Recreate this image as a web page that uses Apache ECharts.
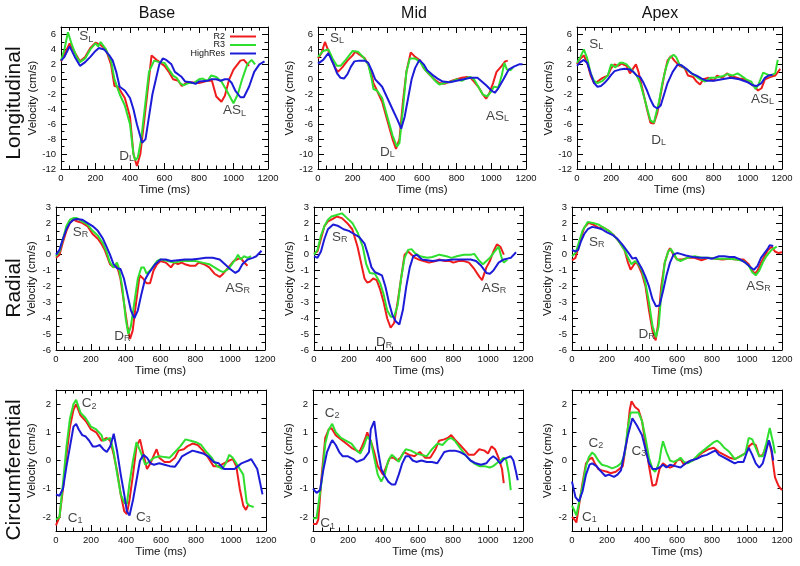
<!DOCTYPE html>
<html><head><meta charset="utf-8">
<script src="https://cdn.jsdelivr.net/npm/echarts@6/dist/echarts.min.js"></script>
<style>html,body{margin:0;padding:0;background:#fff}#c{width:800px;height:566px}</style>
</head><body><div id="c"></div><script>
// ---------- data: [time (ms), velocity (cm/s)] ----------
const longBaseR2 = [[0,2.4],[25,3.6],[50,4.8],[80,3.6],[110,2.4],[140,3.0],[170,4.2],[200,4.9],[230,4.6],[260,4.0],[290,2.0],[310,-0.9],[330,-1.0],[370,-2.5],[400,-5],[420,-10],[440,-11.6],[460,-10],[490,-4],[525,3.2],[560,2.5],[600,1.8],[625,1.0],[650,0],[680,-0.2],[700,-0.9],[725,-0.5],[750,-0.4],[800,-0.5],[850,-0.2],[875,-0.2],[900,-2.3],[930,-3.0],[950,-2.2],[975,0],[1000,1.3],[1040,2.5],[1060,2.6],[1090,1.8]];
const longBaseR3 = [[0,2.5],[20,4.0],[40,6.3],[65,4.5],[90,3.0],[110,2.3],[140,2.8],[170,4.0],[200,4.8],[215,4.4],[230,5.0],[260,4.0],[290,2.5],[310,0],[340,-2],[370,-3.5],[400,-6],[420,-10],[430,-10.8],[445,-10.5],[465,-8],[490,-3],[510,1],[540,2.5],[570,2.3],[600,2.2],[620,1.5],[650,0.5],[670,0.2],[690,-0.5],[710,-0.8],[740,-0.5],[770,-0.5],[800,0],[820,0.1],[850,-0.2],[870,0.5],[900,0.3],[930,-0.3],[960,-1.5],[1000,-3.2],[1025,-2.0],[1050,0],[1080,2.0],[1105,2.6],[1125,2.0]];
const longBaseHR = [[0,2.5],[20,3.0],[50,4.4],[80,3.0],[110,1.8],[140,2.3],[170,3.0],[200,3.8],[220,4.2],[250,4.0],[280,3.2],[300,2.5],[320,1.0],[340,-1],[370,-1.5],[400,-2.5],[420,-4],[440,-6],[470,-8.5],[490,-8],[510,-5],[530,-2],[550,0],[570,2],[590,2.8],[610,2.6],[640,2.0],[660,1.0],[700,0.3],[720,-0.3],[750,-0.4],[780,-0.6],[800,-0.3],[850,-0.2],[870,0],[900,0],[925,-0.2],[950,0],[970,0],[990,-0.5],[1010,-1.5],[1040,-2.4],[1060,-2.4],[1090,-1.0],[1120,1.0],[1150,2.0],[1180,2.4]];

const longMidR2 = [[0,2.8],[20,3.5],[40,5.0],[60,3.8],[80,2.5],[100,1.5],[115,1.0],[140,1.6],[170,2.5],[200,3.2],[215,3.7],[240,3.3],[270,2.8],[290,2.0],[310,0.5],[320,-0.5],[340,-1.5],[370,-3],[400,-5.5],[430,-8],[450,-9.3],[470,-8],[490,-3],[510,1],[535,3.6],[560,3.0],[590,2.5],[610,1.5],[640,0.7],[670,0],[700,-0.5],[730,-0.6],[760,-0.3],[800,0],[830,0.2],[860,0.3],[880,0.2],[900,-0.3],[925,-1.0],[950,-2.0],[970,-2.6],[990,-1.8],[1010,-0.5],[1030,1.0],[1060,1.8],[1080,2.4],[1095,2.5]];
const longMidR3 = [[0,3.0],[30,3.8],[60,4.0],[90,2.5],[110,1.8],[130,1.8],[160,2.6],[200,3.8],[230,3.7],[260,3.0],[290,2.0],[310,0],[320,-1.3],[340,-1.5],[370,-2.5],[400,-5],[430,-7.5],[455,-9],[470,-8.5],[490,-4],[510,1],[530,2.8],[560,2.8],[590,2.3],[620,1.2],[650,0.5],[680,-0.3],[700,-0.7],[730,-0.5],[770,-0.3],[800,0],[830,-0.2],[860,0.2],[880,0.3],[900,0],[930,-1.2],[950,-2.0],[975,-2.3],[1000,-1.6],[1015,-1.0],[1040,-1.1],[1060,0.5],[1075,2.2],[1090,1.3],[1110,1.2],[1125,1.6]];
const longMidHR = [[0,2.1],[30,2.6],[60,3.5],[90,2.0],[110,0.8],[130,0.2],[150,0.1],[170,0.7],[190,1.7],[210,2.4],[240,2.5],[270,2.5],[290,2.2],[310,1.2],[330,0],[350,-0.5],[370,-1.0],[400,-2.5],[430,-4],[460,-5.5],[480,-6.6],[500,-5],[520,-2.5],[540,0],[560,1.5],[585,2.6],[610,2.0],[630,1.2],[660,0.6],[690,0.1],[720,-0.3],[760,-0.4],[800,-0.2],[840,0],[880,0.2],[920,0.2],[940,-0.2],[970,-0.8],[1000,-1.5],[1020,-1.8],[1040,-1.2],[1070,0],[1100,1.3],[1130,1.7],[1160,2.0],[1180,2.0]];

const longApexR2 = [[0,2.0],[20,2.8],[40,3.2],[60,2.2],[80,0.5],[100,-0.5],[120,-0.3],[150,0.2],[180,0.5],[200,1.5],[220,2.0],[240,1.8],[260,2.1],[290,1.8],[310,0.8],[330,1.5],[345,2.0],[360,1.0],[380,-1],[410,-4],[430,-5.8],[450,-5.9],[470,-4.5],[490,-2],[510,0.5],[530,2.5],[550,3.1],[570,2.5],[600,1.8],[630,1.5],[650,0.5],[680,0.3],[700,-0.3],[720,-0.7],[740,0],[770,0.2],[800,-0.2],[820,0.5],[850,0.2],[880,0.8],[900,0.3],[920,0.3],[950,0.1],[980,0],[1010,-0.5],[1040,-1.0],[1060,-1.5],[1080,-1.2],[1100,0],[1130,0.3],[1160,0.5],[1190,1.4]];
const longApexR3 = [[0,2.2],[20,3.0],[40,4.0],[60,2.8],[80,0.8],[100,-0.2],[120,-0.5],[150,-0.2],[180,0.5],[200,2.0],[225,1.6],[250,2.2],[270,2.2],[290,2.0],[310,1.5],[330,1.0],[350,0.5],[370,-0.5],[400,-3],[430,-5.5],[450,-5.8],[460,-5.6],[480,-3],[500,-0.5],[520,1.5],[540,2.8],[565,3.3],[580,3.0],[600,2.0],[630,1.5],[660,1.0],[690,0.5],[720,0],[750,-0.3],[780,0.2],[810,0.2],[850,0.4],[880,0.7],[910,0.5],[940,0.8],[960,0.5],[990,0],[1020,-0.3],[1045,-1.3],[1060,-0.8],[1090,0.9],[1110,0.7],[1130,0.5],[1160,0.8],[1175,2.6]];
const longApexHR = [[0,1.8],[20,2.3],[40,2.6],[60,2.2],[80,0.8],[100,-0.5],[120,-1.0],[140,-0.9],[160,-0.5],[180,0],[200,0.6],[220,1.1],[250,1.3],[280,1.4],[310,1.3],[330,1.0],[350,0.5],[370,0.3],[390,-0.5],[410,-1.5],[430,-2.7],[450,-3.6],[470,-3.9],[490,-3.5],[510,-2],[530,-0.5],[560,1.0],[590,2.0],[610,1.9],[640,1.4],[670,0.8],[700,0.5],[730,0.1],[760,-0.2],[800,-0.2],[850,0],[900,0.2],[950,0],[1000,-0.4],[1030,-0.8],[1050,-0.9],[1080,-0.5],[1100,0.2],[1120,0.5],[1145,0.6]];

const radBaseR2 = [[0,-0.2],[20,0],[40,0.8],[60,1.5],[80,2.0],[100,2.2],[120,2.1],[150,2.0],[180,1.8],[210,1.3],[240,1.0],[260,0.7],[280,0.3],[300,-0.3],[310,-0.6],[330,-0.8],[350,-0.7],[370,-1.5],[390,-3],[410,-4.5],[425,-5.3],[440,-4.8],[460,-3],[480,-1.3],[500,-1.5],[520,-1.8],[540,-1.8],[560,-1.0],[580,-0.6],[600,-0.4],[630,-0.5],[660,-0.8],[680,-0.5],[700,-0.6],[720,-0.5],[740,-0.6],[770,-0.7],[800,-0.7],[820,-0.5],[850,-0.6],[880,-0.8],[910,-1.2],[940,-1.4],[960,-1.2],[990,-0.8],[1020,-0.4],[1040,-0.3],[1060,-0.2],[1080,-0.5],[1100,-0.7]];
const radBaseR3 = [[0,-0.1],[20,0.2],[40,1.0],[60,1.8],[80,2.2],[100,2.3],[120,2.3],[150,2.1],[180,1.9],[210,1.5],[240,1.2],[270,0.7],[290,0.2],[310,-0.5],[330,-0.8],[350,-0.5],[360,-0.8],[380,-2],[400,-4],[415,-5.0],[430,-4.5],[450,-3],[470,-1.5],[490,-0.8],[505,-0.8],[520,-1.2],[540,-1.0],[560,-0.7],[580,-0.4],[600,-0.3],[640,-0.4],[680,-0.5],[720,-0.4],[760,-0.4],[800,-0.4],[840,-0.5],[880,-0.6],[910,-0.8],[940,-1.0],[960,-1.1],[990,-0.9],[1010,-0.6],[1030,-0.3],[1045,0],[1060,-0.3],[1080,-0.1],[1100,-0.2],[1120,-0.1]];
const radBaseHR = [[0,0],[20,0.3],[40,1.0],[60,1.6],[80,2.0],[100,2.2],[120,2.25],[150,2.2],[180,2.0],[210,1.8],[240,1.5],[270,1.0],[290,0.5],[310,0],[330,-0.6],[350,-0.85],[370,-0.9],[390,-1.5],[410,-2.5],[430,-3.5],[450,-4.0],[470,-3.5],[490,-2.5],[510,-1.6],[530,-1.2],[550,-0.9],[570,-0.6],[600,-0.3],[630,-0.3],[660,-0.4],[700,-0.35],[740,-0.3],[780,-0.3],[820,-0.25],[860,-0.2],[900,-0.2],[940,-0.3],[970,-0.6],[1000,-0.9],[1030,-1.15],[1050,-1.0],[1070,-0.6],[1100,-0.3],[1130,-0.2],[1150,-0.1],[1180,0.25]];

const radMidR2 = [[0,0.1],[20,0.2],[40,1.0],[60,1.8],[80,2.1],[100,2.2],[130,2.4],[160,2.3],[190,2.0],[220,1.6],[250,0.5],[270,-0.5],[290,-1.5],[305,-1.75],[320,-1.7],[340,-1.5],[360,-1.6],[380,-2.2],[400,-3],[420,-4],[440,-4.6],[460,-4.3],[480,-3],[500,-1.5],[520,0],[540,0.2],[560,0],[580,-0.2],[600,-0.3],[630,-0.4],[660,-0.5],[700,-0.4],[720,-0.3],[750,-0.4],[780,-0.4],[800,-0.5],[830,-0.4],[860,-0.4],[890,-0.5],[920,-0.9],[950,-1.4],[965,-1.6],[990,-0.8],[1010,-0.4],[1030,0.2],[1050,0.65],[1070,0.5],[1090,0]];
const radMidR3 = [[0,0],[20,0.3],[40,1.2],[60,1.8],[80,2.2],[100,2.4],[130,2.5],[160,2.6],[190,2.3],[220,2.0],[250,1.4],[280,0.5],[300,-0.6],[320,-1.15],[350,-1.2],[380,-1.8],[400,-2.5],[420,-3.5],[440,-3.9],[460,-3.9],[480,-3.2],[500,-1.5],[520,-0.2],[540,0.3],[560,0.35],[580,0.1],[610,-0.1],[650,-0.2],[680,-0.15],[720,0],[760,-0.1],[790,-0.2],[820,-0.1],[860,0],[900,0],[920,0.05],[950,-0.4],[970,-0.6],[990,-0.4],[1010,-0.2],[1030,0.1],[1060,0.5],[1080,-0.3],[1090,-0.5],[1110,-0.3]];
const radMidHR = [[0,-0.1],[20,-0.2],[40,0.2],[60,1.0],[80,1.6],[110,1.9],[140,1.8],[170,1.6],[200,1.5],[230,1.3],[260,1.1],[290,0.7],[310,0],[330,-0.8],[350,-1.1],[370,-1.2],[390,-1.3],[410,-2],[430,-3],[450,-3.8],[470,-4.2],[490,-4.4],[510,-3.5],[530,-2],[550,-0.8],[570,-0.1],[590,0],[620,-0.3],[650,-0.35],[680,-0.4],[720,-0.35],[760,-0.35],[800,-0.3],[850,-0.3],[900,-0.3],[930,-0.4],[960,-0.7],[990,-1.15],[1010,-1.2],[1030,-1.0],[1060,-0.5],[1090,-0.3],[1110,-0.25],[1130,-0.2],[1160,0.15]];

const radApexR2 = [[0,-0.35],[20,-0.2],[30,0.2],[50,1.0],[70,1.7],[95,2.0],[120,1.9],[150,1.7],[180,1.7],[210,1.5],[240,1.2],[270,0.8],[300,0.3],[320,-0.5],[335,-0.95],[350,-0.7],[365,-0.45],[380,-0.7],[400,-1.2],[420,-2],[440,-3.5],[460,-4.8],[478,-5.4],[490,-4.5],[510,-2],[530,-0.5],[550,0.2],[560,0.4],[580,0],[600,-0.3],[630,-0.3],[660,-0.2],[700,-0.2],[740,-0.35],[780,-0.2],[820,-0.25],[860,-0.3],[900,-0.25],[940,-0.3],[980,-0.3],[1010,-0.6],[1030,-1.0],[1045,-1.2],[1060,-1.0],[1080,-0.5],[1100,-0.1],[1120,0.3],[1140,0.5],[1160,0.2],[1180,0.1],[1200,0.15]];
const radApexR3 = [[0,-0.1],[20,0.1],[40,0.8],[60,1.5],[90,2.05],[120,2.0],[150,1.9],[180,1.7],[210,1.5],[240,1.2],[270,0.8],[300,0.3],[320,-0.2],[340,-0.6],[360,-0.4],[380,-0.6],[400,-1.0],[420,-1.8],[440,-3],[460,-4.5],[480,-5.2],[495,-4.5],[510,-2.5],[530,-0.5],[550,0.2],[565,0.35],[580,0.1],[600,-0.3],[620,-0.4],[640,-0.3],[660,-0.2],[700,-0.1],[740,-0.2],[780,-0.2],[820,-0.25],[860,-0.25],[900,-0.25],[940,-0.3],[980,-0.4],[1010,-0.7],[1030,-1.1],[1050,-1.3],[1070,-1.0],[1090,-0.5],[1110,-0.1],[1140,0.3],[1170,0.5]];
const radApexHR = [[0,0.3],[20,0.2],[35,0.3],[50,0.8],[70,1.3],[90,1.6],[115,1.75],[140,1.7],[170,1.6],[200,1.4],[230,1.25],[260,1.0],[290,0.6],[310,0.3],[330,0],[345,-0.25],[365,-0.2],[380,-0.5],[400,-0.9],[420,-1.4],[440,-2.0],[460,-2.8],[480,-3.25],[500,-3.2],[520,-2.3],[540,-1.3],[560,-0.5],[580,0],[600,0.1],[620,0.05],[650,-0.05],[690,-0.15],[730,-0.2],[770,-0.2],[800,-0.25],[840,-0.1],[870,-0.1],[900,-0.15],[930,-0.15],[960,-0.3],[990,-0.5],[1020,-0.8],[1040,-0.95],[1060,-0.7],[1080,-0.2],[1100,0.1],[1120,0.4],[1130,0.6],[1150,0.55]];

const circBaseR2 = [[0,-2.3],[20,-2.0],[40,-1.0],[60,0.2],[80,1.2],[100,1.8],[115,2.0],[140,1.6],[170,1.4],[200,1.1],[230,1.0],[260,0.7],[290,0.8],[310,0.7],[330,0.2],[350,-0.4],[370,-1.2],[390,-1.8],[405,-1.9],[420,-1.4],[440,-0.5],[460,0.5],[480,0.75],[500,0.2],[520,-0.3],[540,-0.1],[560,0.2],[575,0.4],[590,0.1],[620,-0.05],[650,-0.05],[680,0.1],[700,0.35],[730,0.4],[750,0.5],[780,0.6],[810,0.55],[840,0.35],[870,0.1],[900,-0.2],[930,-0.2],[960,-0.1],[990,0],[1010,0.05],[1030,-0.2],[1050,-1.0],[1070,-1.6],[1085,-1.75],[1100,-1.55]];
const circBaseR3 = [[0,-2.1],[20,-2.0],[40,-0.8],[60,0.5],[80,1.5],[100,2.0],[115,2.15],[140,1.7],[170,1.5],[200,1.2],[230,1.1],[260,0.9],[270,0.7],[290,0.75],[310,0.8],[330,0.3],[350,-0.5],[370,-1.2],[390,-1.5],[405,-1.55],[420,-0.8],[440,0],[460,0.65],[470,0.7],[490,0.2],[510,-0.15],[530,-0.05],[560,0.1],[590,0.15],[620,0.12],[650,0.1],[680,0.3],[710,0.5],[740,0.75],[770,0.7],[800,0.65],[830,0.55],[860,0.3],[890,0.1],[920,-0.2],[950,-0.3],[970,-0.1],[990,0.2],[1010,0.1],[1030,-0.1],[1050,-0.3],[1070,-0.5],[1090,-1.5],[1105,-1.6],[1130,-1.65]];
const circBaseHR = [[0,-1.2],[20,-1.25],[40,-1.0],[60,-0.2],[80,0.5],[100,1.2],[115,1.3],[130,1.1],[150,0.9],[170,0.85],[190,0.7],[210,0.5],[230,0.5],[250,0.55],[270,0.4],[290,0.3],[310,0.5],[330,0.95],[350,0.3],[370,-0.5],[390,-1.2],[405,-1.8],[420,-1.95],[440,-1.4],[460,-0.7],[480,0],[500,0.2],[520,0.1],[540,-0.1],[560,-0.15],[590,-0.1],[620,-0.15],[650,-0.2],[680,-0.22],[700,-0.05],[720,0.15],[750,0.25],[780,0.35],[810,0.3],[840,0.25],[870,0.15],[900,-0.05],[930,-0.1],[960,-0.3],[990,-0.3],[1020,-0.3],[1040,-0.2],[1060,-0.1],[1080,-0.05],[1100,0],[1115,0.05],[1130,-0.1],[1150,-0.3],[1170,-0.9],[1180,-1.2]];

const circMidR2 = [[0,-2.25],[20,-2.25],[30,-2.1],[50,-0.5],[70,0.8],[90,1.1],[105,1.15],[130,0.9],[160,0.75],[190,0.6],[220,0.45],[250,0.35],[265,0.3],[280,0.5],[300,0.8],[310,1.0],[330,0.7],[350,0.3],[370,-0.2],[390,-0.4],[400,-0.5],[420,-0.2],[440,0.1],[460,0.1],[480,0],[500,0.1],[520,0.3],[550,0.2],[580,0.15],[610,0.3],[640,0.1],[670,0.1],[700,0.4],[720,0.7],[750,0.75],[770,0.8],[790,0.9],[810,0.75],[840,0.55],[870,0.35],[890,0.2],[920,0.2],[950,0.4],[980,0.35],[1000,0.25],[1020,0.5],[1040,0.4],[1060,0.1],[1080,-0.3],[1090,-0.8]];
const circMidR3 = [[0,-2.05],[20,-2.05],[30,-2.0],[50,-0.7],[70,0.6],[90,1.1],[110,1.3],[130,1.0],[160,0.8],[190,0.7],[220,0.6],[250,0.35],[270,0.25],[290,0.5],[310,0.85],[330,0.7],[350,0.1],[370,-0.5],[390,-0.75],[410,-0.5],[430,0],[450,0.2],[470,0.1],[490,-0.05],[510,0.2],[530,0.4],[560,0.35],[590,0.25],[620,0.2],[650,0.15],[680,0.4],[710,0.6],[740,0.55],[770,0.75],[790,0.8],[810,0.7],[840,0.45],[870,0.2],[900,0],[920,-0.1],[950,-0.2],[980,-0.2],[1010,-0.25],[1030,-0.2],[1050,-0.1],[1070,0],[1090,0.1],[1105,0],[1120,-0.5],[1130,-1.05]];
const circMidHR = [[0,-1.0],[20,-1.15],[40,-1.05],[60,-0.3],[80,0.3],[100,0.6],[110,0.72],[130,0.55],[150,0.3],[170,0.15],[200,0.15],[230,0.05],[250,-0.05],[270,0],[290,0.05],[300,0],[320,0.3],[330,1.1],[350,1.4],[370,0.4],[390,-0.3],[410,-0.55],[430,-0.75],[450,-0.85],[470,-0.85],[490,-0.5],[510,-0.1],[530,0.15],[550,0.15],[570,0],[590,-0.05],[620,0],[650,-0.05],[680,-0.05],[710,-0.1],[730,0.1],[750,0.3],[780,0.35],[810,0.35],[840,0.3],[870,0.2],[900,0],[930,-0.1],[960,-0.15],[990,-0.1],[1010,0.05],[1030,0.15],[1050,0.05],[1070,-0.1],[1090,0.05],[1110,0.1],[1130,0.15],[1145,0],[1160,-0.4],[1170,-0.7]];

const circApexR2 = [[0,-2.0],[15,-2.1],[25,-2.2],[40,-1.6],[60,-0.8],[80,-0.1],[100,0.05],[115,0.1],[130,-0.1],[150,-0.3],[170,-0.35],[200,-0.4],[220,-0.45],[250,-0.4],[270,-0.3],[290,-0.2],[310,0.6],[330,1.8],[340,2.1],[360,1.9],[380,1.8],[400,1.4],[420,0.6],[440,-0.2],[460,-0.9],[480,-0.85],[500,-0.3],[520,-0.1],[540,-0.2],[560,-0.25],[580,-0.2],[600,0],[620,0.05],[640,-0.15],[660,-0.05],[690,0],[720,0.15],[750,0.3],[780,0.4],[810,0.45],[840,0.3],[870,0.2],[900,0.1],[930,0.05],[960,0.15],[990,0.25],[1010,0.5],[1030,0.6],[1050,0.55],[1070,0.15],[1090,0.2],[1110,0.5],[1125,0.7],[1140,0.3],[1160,-0.6],[1180,-0.9],[1200,-1.05]];
const circApexR3 = [[0,-1.6],[15,-1.8],[25,-1.95],[40,-1.5],[60,-0.9],[80,-0.2],[95,0.1],[115,0.28],[130,0.2],[150,0],[170,-0.15],[200,-0.2],[230,-0.28],[260,-0.2],[280,-0.1],[300,0.2],[320,1.2],[335,1.7],[360,1.7],[380,1.7],[400,1.4],[420,0.8],[440,0.1],[460,-0.3],[475,-0.4],[490,-0.2],[500,0],[510,0.4],[520,0.68],[540,0.3],[560,0],[580,-0.05],[600,0],[620,0.1],[640,-0.05],[660,-0.1],[690,0],[720,0.2],[750,0.35],[780,0.5],[810,0.65],[830,0.7],[850,0.6],[870,0.45],[900,0.3],[930,0.05],[960,0.15],[990,0.25],[1010,0.8],[1030,0.75],[1050,0.45],[1070,0.15],[1090,0.15],[1110,0.6],[1130,1.15],[1150,0.6],[1160,0.25]];
const circApexHR = [[0,-0.75],[20,-1.3],[40,-1.45],[60,-1.1],[80,-0.5],[100,-0.15],[115,-0.1],[140,-0.2],[160,-0.35],[190,-0.55],[210,-0.5],[240,-0.58],[260,-0.5],[280,-0.35],[300,0.3],[320,0.9],[345,1.5],[370,1.25],[400,0.9],[420,0.4],[440,-0.1],[460,-0.3],[480,-0.3],[500,-0.25],[520,-0.15],[540,-0.25],[560,-0.15],[590,-0.2],[620,-0.25],[650,-0.1],[680,0],[710,0.05],[740,0.15],[770,0.2],[800,0.3],[820,0.35],[840,0.2],[870,0.1],[900,0],[930,-0.1],[950,-0.05],[980,-0.05],[1000,0.3],[1010,0.45],[1030,0.2],[1050,-0.1],[1070,-0.25],[1090,-0.1],[1110,0.35],[1125,0.72],[1140,0.4],[1150,0]];

// annotations: [time, velocity, main text, subscript]
const longBaseAnn = [[147,5.7,'S','L'],[381,-10.3,'D','L'],[1006,-4.2,'AS','L']];
const longMidAnn = [[110,5.46,'S','L'],[400,-9.7,'D','L'],[1035,-4.97,'AS','L']];
const longApexAnn = [[112,4.66,'S','L'],[478,-8.1,'D','L'],[1086,-2.7,'AS','L']];
const radBaseAnn = [[140,1.42,'S','R'],[381,-5.12,'D','R'],[1044,-2.1,'AS','R']];
const radMidAnn = [[148,1.1,'S','R'],[403,-5.54,'D','R'],[1033,-2.1,'AS','R']];
const radApexAnn = [[142,0.79,'S','R'],[427,-5.0,'D','R'],[1066,-2.0,'AS','R']];
const circBaseAnn = [[190,2.02,'C','2'],[109,-2.04,'C','1'],[499,-2.0,'C','3']];
const circMidAnn = [[109,1.68,'C','2'],[83,-2.24,'C','1']];
const circApexAnn = [[137,0.62,'C','2'],[99,-2.0,'C','1'],[382,0.32,'C','3']];

const colTitles = ['Base','Mid','Apex'];
const rowTitles = ['Longitudinal','Radial','Circumferential'];
const seriesNames = ['R2','R3','HighRes'];
const xTickLabels = [0,200,400,600,800,1000,1200];

// ---------- layout / style ----------
const FONT = '"Liberation Sans", Arial, Helvetica, sans-serif';
const COLORS = ['#ee1c1c','#2fdf2f','#1c1cd8'];
const panelSeries = [
  [longBaseR2,longBaseR3,longBaseHR],[longMidR2,longMidR3,longMidHR],[longApexR2,longApexR3,longApexHR],
  [radBaseR2,radBaseR3,radBaseHR],[radMidR2,radMidR3,radMidHR],[radApexR2,radApexR3,radApexHR],
  [circBaseR2,circBaseR3,circBaseHR],[circMidR2,circMidR3,circMidHR],[circApexR2,circApexR3,circApexHR]
];
const panelAnn = [longBaseAnn,longMidAnn,longApexAnn,radBaseAnn,radMidAnn,radApexAnn,circBaseAnn,circMidAnn,circApexAnn];
const gridBoxes = [
  [61,27,207,142],[318,27,208,142],[577,27,205,142],
  [56,207,209,143],[314,207,209,143],[572,207,210,143],
  [56,390,210,141],[313,390,210,141],[572,390,210,141]
];
const rowScale = [
  {min:-12,max:7,interval:2,minor:2,nameGap:22},
  {min:-6,max:3,interval:1,minor:2,nameGap:18},
  {min:-2.5,max:2.5,interval:0.5,minor:0,nameGap:18}
];

const grids=[], xAxes=[], yAxes=[], series=[];
const lineAx = {show:true,onZero:false,lineStyle:{color:'#000',width:1}};
const tickStyle = {color:'#000',width:1};
panelSeries.forEach((sets,i)=>{
  const row = Math.floor(i/3);
  const b = gridBoxes[i];
  grids.push({left:b[0],top:b[1],width:b[2],height:b[3],containLabel:false,outerBoundsMode:'none',show:false});
  const xc = {type:'value',gridIndex:i,min:0,max:1200,interval:200,axisLine:lineAx,
    axisTick:{show:true,inside:true,length:6,lineStyle:tickStyle},
    minorTick:{show:true,splitNumber:4,length:3.5,lineStyle:tickStyle},
    splitLine:{show:false},minorSplitLine:{show:false}};
  xAxes.push(Object.assign({},xc,{position:'bottom',
    axisLabel:{show:true,color:'#111',fontSize:9.5,fontFamily:FONT,margin:4,
      formatter:v=>xTickLabels.indexOf(v)>=0?String(v):''},
    name:'Time (ms)',nameLocation:'middle',nameGap:15,
    nameTextStyle:{fontSize:11.5,color:'#111',fontFamily:FONT}}));
  xAxes.push(Object.assign({},xc,{position:'top',axisLabel:{show:false}}));
  const rs = rowScale[row];
  const yc = {type:'value',gridIndex:i,min:rs.min,max:rs.max,interval:rs.interval,axisLine:lineAx,
    axisTick:{show:true,inside:true,length:rs.minor?6:4.5,lineStyle:tickStyle},
    minorTick:{show:rs.minor>0,splitNumber:rs.minor||2,length:3.5,lineStyle:tickStyle},
    splitLine:{show:false},minorSplitLine:{show:false}};
  yAxes.push(Object.assign({},yc,{position:'left',
    axisLabel:{show:true,color:'#111',fontSize:9.5,fontFamily:FONT,margin:5,showMaxLabel:row!==0,showMinLabel:true,
      formatter:v=>(Math.abs(v-Math.round(v))<1e-9 && !(row===0&&v===7))?String(Math.round(v)):''},
    name:'Velocity (cm/s)',nameLocation:'middle',nameGap:rs.nameGap,
    nameTextStyle:{fontSize:11.5,color:'#111',fontFamily:FONT}}));
  yAxes.push(Object.assign({},yc,{position:'right',axisLabel:{show:false}}));
  sets.forEach((d,k)=>{
    series.push({type:'line',name:seriesNames[k],xAxisIndex:2*i,yAxisIndex:2*i,data:d,
      showSymbol:false,symbol:'none',lineStyle:{color:COLORS[k],width:2},itemStyle:{color:COLORS[k]},
      silent:true,animation:false,z:2+k});
  });
  series.push({type:'scatter',xAxisIndex:2*i,yAxisIndex:2*i,symbolSize:0,silent:true,animation:false,z:10,
    data:panelAnn[i].map(a=>({value:[a[0],a[1]],main:a[2],sub:a[3]})),
    label:{show:true,position:'inside',color:'#111',fontFamily:FONT,
      formatter:p=>'{m|'+p.data.main+'}{s|'+p.data.sub+'}',
      rich:{m:{fontSize:13.5,lineHeight:14,fontFamily:FONT,color:'#111'},
            s:{fontSize:9,lineHeight:9,verticalAlign:'bottom',fontFamily:FONT,color:'#111'}}}});
});

const legendTops = [32,40.5,49];
const legends = seriesNames.map((n,k)=>({data:[n],orient:'vertical',right:544,top:legendTops[k],
  align:'right',icon:'rect',itemWidth:26,itemHeight:2,itemGap:0,padding:0,selectedMode:false,
  textStyle:{fontSize:9,lineHeight:9,color:'#111',fontFamily:FONT}}));

const graphics = [];
[157,414,660].forEach((x,c)=>graphics.push({type:'text',x:x,y:14,silent:true,
  style:{text:colTitles[c],align:'center',verticalAlign:'middle',fontSize:16,fontFamily:FONT,fill:'#111'}}));
[103,288,470].forEach((y,r)=>graphics.push({type:'text',x:14,y:y,rotation:Math.PI/2,silent:true,
  style:{text:rowTitles[r],align:'center',verticalAlign:'middle',fontSize:21,fontFamily:FONT,fill:'#111'}}));

const chart = echarts.init(document.getElementById('c'),null,{renderer:'canvas'});
chart.setOption({backgroundColor:'#fff',animation:false,grid:grids,xAxis:xAxes,yAxis:yAxes,
  legend:legends,series:series,graphic:graphics,tooltip:{show:false}});
</script></body></html>
